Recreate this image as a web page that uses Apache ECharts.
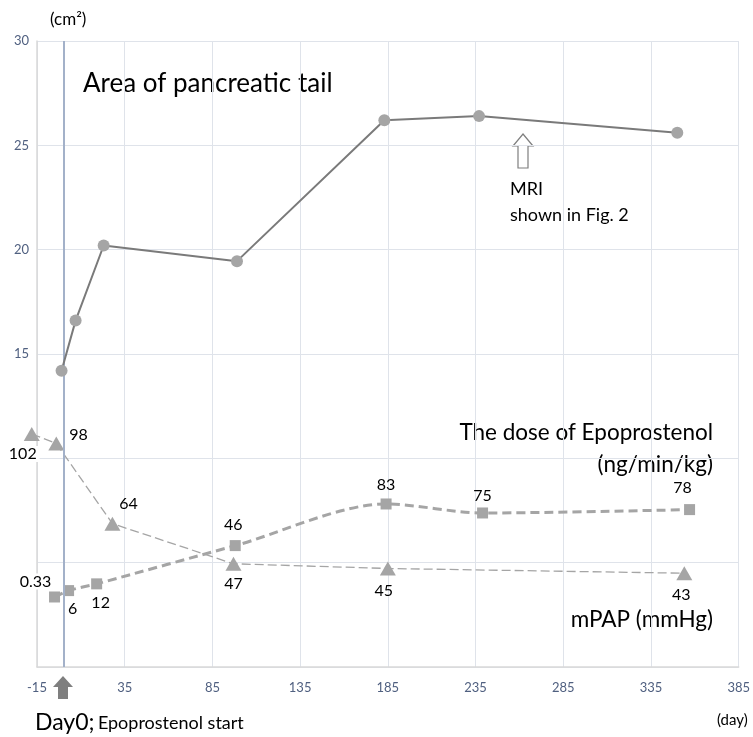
<!DOCTYPE html>
<html>
<head>
<meta charset="utf-8">
<script src="https://cdn.jsdelivr.net/npm/echarts@6/dist/echarts.min.js"></script>
<style>
html,body{margin:0;padding:0;background:#fff;}
#chart{width:753px;height:737px;}
</style>
</head>
<body>
<div id="chart"></div>
<script>
// ---- data ----
const xTickLabels = [-15, 35, 85, 135, 185, 235, 285, 335, 385];
const yTickLabels = [15, 20, 25, 30];

const areaDays   = [-1, 7, 23, 99, 183, 237, 350];
const areaValues = [14.2, 16.6, 20.2, 19.45, 26.2, 26.4, 25.6];

const doseDays   = [-5, 3, 19, 98, 184, 239, 357];
const doseValues = [0.33, 6, 12, 46, 83, 75, 78];

const mpapDays   = [-18, -4, 28, 97, 185, 354];
const mpapValues = [102, 98, 64, 47, 45, 43];

// ---- layout helpers ----
const X_SHIFT = 15; // axis starts at day -15
const FONT = 'Lato, "Open Sans", sans-serif';
const GRAY = '#a5a5a5';

const doseLabelPos = [
  {position: 'top', offset: [-19, 3], backgroundColor: '#fff'},
  {position: 'bottom', offset: [4, 0]},
  {position: 'bottom', offset: [4, 0]},
  {position: 'top', offset: [-2, -2]},
  {position: 'top', offset: [0, -1]},
  {position: 'top', offset: [0, 1]},
  {position: 'top', offset: [-7, -3]}
];
const mpapLabelPos = [
  {position: 'bottom', offset: [-9, 0], backgroundColor: '#fff', padding: [0, 3]},
  {position: 'right', offset: [0, -9]},
  {position: 'top', offset: [16, 0]},
  {position: 'bottom', offset: [0, 0]},
  {position: 'bottom', offset: [-4, 2]},
  {position: 'bottom', offset: [-3, 2]}
];

function pairs(days, vals) { return days.map((d, i) => [d + X_SHIFT, vals[i]]); }

const labelBase = {show: true, color: '#000', fontSize: 16, fontFamily: FONT, distance: 5};

const chart = echarts.init(document.getElementById('chart'), null, {renderer: 'canvas'});

const option = {
  animation: false,
  backgroundColor: '#fff',
  grid: {left: 37, right: 12, top: 41, bottom: 70},
  xAxis: {
    type: 'value', min: 0, max: 400, interval: 50,
    axisLine: {show: true, lineStyle: {color: '#d9d9d9', width: 1.5}},
    axisTick: {show: false},
    splitLine: {show: true, lineStyle: {color: '#dfe3ea', width: 1}},
    axisLabel: {
      color: '#506080', fontSize: 13, fontFamily: FONT, margin: 14,
      formatter: v => xTickLabels.includes(v - X_SHIFT) ? String(v - X_SHIFT) : ''
    }
  },
  yAxis: [
    {
      type: 'value', min: 0, max: 30, interval: 5,
      axisLine: {show: true, lineStyle: {color: '#d9d9d9', width: 1.5}},
      axisTick: {show: false},
      splitLine: {show: true, lineStyle: {color: '#dfe3ea', width: 1}},
      axisLabel: {
        color: '#506080', fontSize: 13, fontFamily: FONT, margin: 8,
        formatter: v => yTickLabels.includes(v) ? String(v) : ''
      }
    },
    {type: 'value', min: -61.9, max: 494.5, show: false, splitLine: {show: false}},
    {type: 'value', min: 3.26, max: 268.5, show: false, splitLine: {show: false}}
  ],
  series: [
    {
      name: 'Area of pancreatic tail', type: 'line', yAxisIndex: 0,
      data: pairs(areaDays, areaValues),
      symbol: 'circle', symbolSize: 12,
      itemStyle: {color: GRAY},
      lineStyle: {color: '#7a7a7a', width: 2},
      z: 5,
      markLine: {
        silent: true, symbol: 'none', label: {show: false},
        lineStyle: {color: '#a3b1c9', width: 2, type: 'solid'},
        data: [{xAxis: 0 + X_SHIFT}]
      }
    },
    {
      name: 'The dose of Epoprostenol', type: 'line', yAxisIndex: 1,
      data: pairs(doseDays, doseValues).map((p, i) => ({value: p, label: doseLabelPos[i]})),
      symbol: 'rect', symbolSize: 11, smooth: 0.3,
      itemStyle: {color: GRAY},
      lineStyle: {color: GRAY, width: 3, type: [9, 5]},
      label: Object.assign({}, labelBase, {formatter: p => String(doseValues[p.dataIndex])}),
      z: 4
    },
    {
      name: 'mPAP', type: 'line', yAxisIndex: 2, clip: false,
      data: pairs(mpapDays, mpapValues).map((p, i) => ({value: p, label: mpapLabelPos[i]})),
      symbol: 'triangle', symbolSize: [16, 14],
      itemStyle: {color: GRAY},
      lineStyle: {color: GRAY, width: 1.3, type: [9, 4]},
      label: Object.assign({}, labelBase, {formatter: p => String(mpapValues[p.dataIndex])}),
      z: 4
    }
  ],
  graphic: [
    {type: 'text', style: {text: '(cm²)', x: 50, y: 20, fill: '#000', font: '17px ' + FONT, align: 'left', verticalAlign: 'middle'}},
    {type: 'text', style: {text: 'Area of pancreatic tail', x: 83, y: 84, fill: '#000', font: '26px ' + FONT, align: 'left', verticalAlign: 'middle'}},
    {type: 'text', style: {text: 'The dose of Epoprostenol', x: 713, y: 433, fill: '#000', font: '22.5px ' + FONT, align: 'right', verticalAlign: 'middle'}},
    {type: 'text', style: {text: '(ng/min/kg)', x: 713, y: 465, fill: '#000', font: '22.5px ' + FONT, align: 'right', verticalAlign: 'middle'}},
    {type: 'text', style: {text: 'mPAP (mmHg)', x: 713, y: 620, fill: '#000', font: '22.5px ' + FONT, align: 'right', verticalAlign: 'middle'}},
    {type: 'text', style: {text: 'MRI', x: 510, y: 189, fill: '#000', font: '18px ' + FONT, align: 'left', verticalAlign: 'middle'}},
    {type: 'text', style: {text: 'shown in Fig. 2', x: 510, y: 215, fill: '#000', font: '18px ' + FONT, align: 'left', verticalAlign: 'middle'}},
    {type: 'text', style: {text: '(day)', x: 717, y: 720, fill: '#000', font: '15px ' + FONT, align: 'left', verticalAlign: 'middle'}},
    {type: 'text', style: {
      text: '{a|Day0;} {b|Epoprostenol start}', x: 35, y: 723, align: 'left', verticalAlign: 'middle',
      rich: {a: {fontSize: 23, fontFamily: FONT, fill: '#000', color: '#000'}, b: {fontSize: 18, fontFamily: FONT, fill: '#000', color: '#000'}}
    }},
    {type: 'polygon', shape: {points: [[63, 676], [73, 687], [68, 687], [68, 699], [58, 699], [58, 687], [53, 687]]},
      style: {fill: '#7f7f7f', stroke: 'none'}},
    {type: 'polygon', shape: {points: [[523, 134], [533, 146], [528, 146], [528, 168], [518, 168], [518, 146], [513, 146]]},
      style: {fill: '#fff', stroke: '#7f7f7f', lineWidth: 1.2}}
  ]
};
chart.setOption(option);
</script>
</body>
</html>
